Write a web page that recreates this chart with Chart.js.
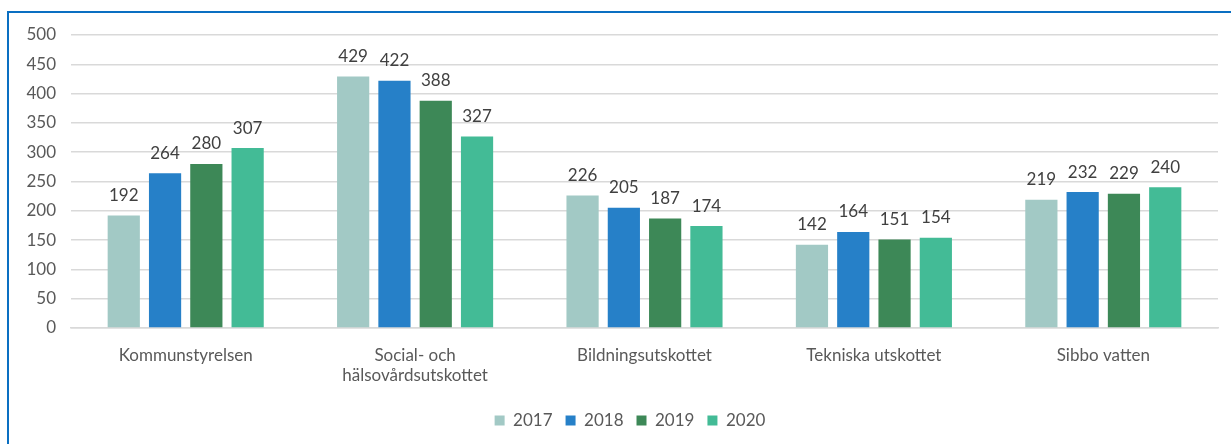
<!DOCTYPE html>
<html>
<head>
<meta charset="utf-8">
<script src="https://cdn.jsdelivr.net/npm/chart.js@4"></script>
<style>
  html, body { margin: 0; padding: 0; background: #fff; }
  #wrap { position: relative; width: 1231px; height: 444px; overflow: hidden; }
  #frame { position: absolute; left: 7px; top: 11px; width: 1300px; height: 500px;
           border-left: 2px solid #0a6fc2; border-top: 2px solid #0a6fc2; }
  canvas { position: absolute; left: 0; top: 0; }
</style>
</head>
<body>
<div id="wrap">
  <div id="frame"></div>
  <canvas id="myChart" width="1231" height="444"></canvas>
</div>
<script>
// Kategorier och värden
const categories = ['Kommunstyrelsen', ['Social- och', 'hälsovårdsutskottet'], 'Bildningsutskottet', 'Tekniska utskottet', 'Sibbo vatten'];
const years = ['2017', '2018', '2019', '2020'];
const values2017 = [192, 429, 226, 142, 219];
const values2018 = [264, 422, 205, 164, 232];
const values2019 = [280, 388, 187, 151, 229];
const values2020 = [307, 327, 174, 154, 240];
const yTicks = [0, 50, 100, 150, 200, 250, 300, 350, 400, 450, 500];

const colors = ['#a2c9c5', '#2680c8', '#3d8857', '#43bb96'];
const FONT = 'Lato, "Open Sans", sans-serif';

// Etiketter ovanför staplarna
const valueLabels = {
  id: 'valueLabels',
  afterLayout(chart) {
    // flytta legenden lite åt höger, som i originalet
    chart.legend.left += 21;
    chart.legend.right += 21;
  },
  afterDatasetsDraw(chart) {
    const ctx = chart.ctx;
    ctx.save();
    ctx.font = '17px ' + FONT;
    ctx.fillStyle = '#404040';
    ctx.textAlign = 'center';
    ctx.textBaseline = 'middle';
    chart.data.datasets.forEach((ds, i) => {
      chart.getDatasetMeta(i).data.forEach((bar, j) => {
        ctx.fillText(ds.data[j], bar.x, bar.y - 20);
      });
    });
    ctx.restore();
  }
};

const seriesValues = [values2017, values2018, values2019, values2020];

const ctx = document.getElementById('myChart').getContext('2d');
const myChart = new Chart(ctx, {
  type: 'bar',
  data: {
    labels: categories,
    datasets: years.map((y, i) => ({
      label: y,
      data: seriesValues[i],
      backgroundColor: colors[i],
      borderWidth: 0,
      categoryPercentage: 0.72,
      barPercentage: 0.78
    }))
  },
  options: {
    responsive: false,
    animation: false,
    layout: { padding: { left: 0, right: 13, top: 35, bottom: 5 } },
    plugins: {
      legend: {
        position: 'bottom',
        labels: {
          boxWidth: 10, boxHeight: 10, padding: 13,
          color: '#595959',
          font: { family: FONT, size: 17 }
        }
      },
      tooltip: { enabled: false }
    },
    scales: {
      x: {
        grid: { display: false },
        border: { color: '#d9d9d9', width: 1.5 },
        ticks: { color: '#595959', font: { family: FONT, size: 17 }, padding: 9, maxRotation: 0 },
        afterFit(scale) { scale.height = 71; }
      },
      y: {
        min: 0, max: 500,
        afterBuildTicks(scale) { scale.ticks = yTicks.map(v => ({ value: v })); },
        grid: { color: '#d9d9d9', lineWidth: 1.5, drawTicks: false },
        border: { display: false },
        ticks: { color: '#595959', font: { family: FONT, size: 17 }, padding: 15 },
        afterFit(scale) { scale.width = 71; }
      }
    }
  },
  plugins: [valueLabels]
});
</script>
</body>
</html>
